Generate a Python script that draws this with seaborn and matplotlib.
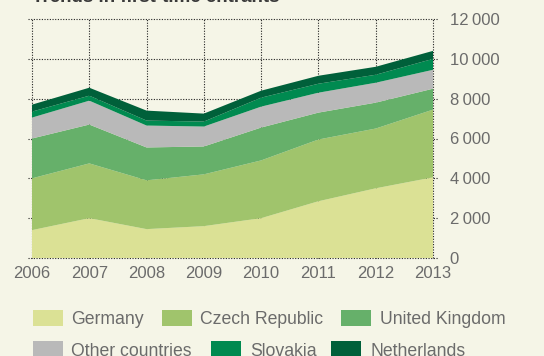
import matplotlib
matplotlib.use("Agg")
import matplotlib.pyplot as plt
from matplotlib.patches import Rectangle
import seaborn as sns
import pandas as pd

years = [2006, 2007, 2008, 2009, 2010, 2011, 2012, 2013]
germany = [1400, 2000, 1450, 1600, 2000, 2850, 3500, 4050]
czech_republic = [2600, 2750, 2450, 2600, 2900, 3100, 3000, 3400]
united_kingdom = [2000, 1950, 1650, 1400, 1650, 1350, 1300, 1050]
other_countries = [1050, 1200, 1100, 1000, 1050, 1000, 1000, 950]
slovakia = [300, 250, 250, 250, 450, 450, 400, 550]
netherlands = [350, 400, 500, 400, 350, 400, 400, 400]

series_names = ["Germany", "Czech Republic", "United Kingdom",
                "Other countries", "Slovakia", "Netherlands"]
colors = ["#dbe195", "#a0c46c", "#66b06a", "#b9b9b9", "#008a50", "#00603a"]
y_ticks = [0, 2000, 4000, 6000, 8000, 10000, 12000]
title = "Trends in first-time entrants"

df = pd.DataFrame({
    "year": years,
    "Germany": germany,
    "Czech Republic": czech_republic,
    "United Kingdom": united_kingdom,
    "Other countries": other_countries,
    "Slovakia": slovakia,
    "Netherlands": netherlands,
})

bg = "#f5f5e7"
txt = "#6b6b6b"
sns.set_theme(style="white", rc={"figure.facecolor": bg, "axes.facecolor": bg})
plt.rcParams["font.family"] = ["Liberation Sans", "DejaVu Sans"]

fig = plt.figure(figsize=(5.44, 3.56), dpi=100)
ax = fig.add_axes([32 / 544, 98 / 356, 401 / 544, 239 / 356])
ax.set_xlim(years[0], years[-1])
ax.set_ylim(0, 12000)

grid_kw = dict(color="#222222", linewidth=0.8, linestyle=(0, (1, 1.4)), zorder=1)
for yv in y_ticks:
    ax.axhline(yv, xmin=-0.01, xmax=1.012, clip_on=False, **grid_kw)
for xv in years:
    ax.axvline(xv, ymin=0, ymax=1, clip_on=False, **grid_kw)

ax.stackplot(df["year"], [df[n] for n in series_names], colors=colors,
             linewidth=0, edgecolor="none", zorder=2)

for s in ax.spines.values():
    s.set_visible(False)
ax.set_xticks(years)
ax.set_xticklabels([str(y) for y in years])
ax.set_yticks(y_ticks)
ax.set_yticklabels([f"{v:,}".replace(",", "\u2009") for v in y_ticks])
ax.yaxis.tick_right()
ax.tick_params(axis="both", length=0, labelsize=12, labelcolor=txt)
ax.tick_params(axis="y", pad=12)
ax.tick_params(axis="x", pad=6)

fig.text(32 / 544, 1 - 2 / 356, title, fontsize=13.5, fontweight="bold",
         color="#3a3a3a", va="baseline", ha="left")

# legend laid out in two flowing rows
legend_items = [
    (0, 33, 71, 318), (1, 162, 200, 318), (2, 341, 380, 318),
    (3, 33, 71, 349), (4, 211, 250, 349), (5, 331, 370, 349),
]
W, H = 544, 356
for idx, sx, tx, cy in legend_items:
    fig.patches.append(Rectangle((sx / W, 1 - (cy + 8) / H), 30 / W, 16 / H,
                                 transform=fig.transFigure, facecolor=colors[idx],
                                 edgecolor="none"))
    fig.text(tx / W, 1 - cy / H, series_names[idx], fontsize=12.7, color=txt,
             va="center_baseline", ha="left")

fig.savefig("out.png", dpi=100, facecolor=bg)
